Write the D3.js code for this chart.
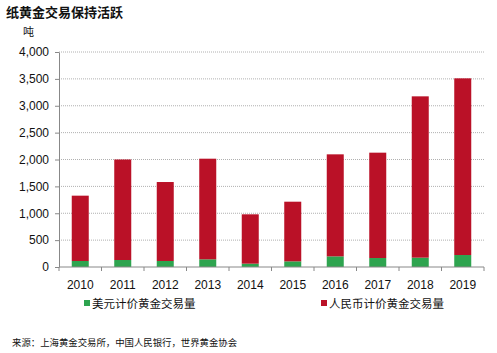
<!DOCTYPE html>
<html>
<head>
<meta charset="utf-8">
<script src="https://cdn.jsdelivr.net/npm/d3@7"></script>
<style>
  body { margin: 0; background: #fff; }
  svg { font-family: "Liberation Sans", Arial, "Noto Sans CJK SC", sans-serif; }
  .cjk { font-family: "Noto Sans CJK SC", sans-serif; }
</style>
</head>
<body>
<svg id="chart" width="497" height="353"></svg>
<script>
// data (tonnes)
const years = ["2010", "2011", "2012", "2013", "2014", "2015", "2016", "2017", "2018", "2019"];
const usdVolume = [112, 130, 112, 143, 62, 105, 198, 167, 174, 223];
const cnyVolume = [1215, 1870, 1469, 1872, 918, 1110, 1898, 1960, 3001, 3287];
const yTicks = [0, 500, 1000, 1500, 2000, 2500, 3000, 3500, 4000];
const seriesNames = ["美元计价黄金交易量", "人民币计价黄金交易量"];
const colors = ["#2ea44f", "#ba1127"];

const svg = d3.select("#chart");
const margin = { top: 52, right: 13, bottom: 86, left: 59 };
const width = 497 - margin.left - margin.right;
const height = 353 - margin.top - margin.bottom;

const g = svg.append("g").attr("transform", `translate(${margin.left},${margin.top})`);

const x = d3.scaleBand().domain(years).range([0, width]).padding(0);
const y = d3.scaleLinear().domain([0, 4000]).range([height, 0]);

// grid lines
g.selectAll(".grid")
  .data(yTicks.filter(d => d > 0))
  .enter().append("line")
  .attr("x1", 0).attr("x2", width)
  .attr("y1", d => y(d)).attr("y2", d => y(d))
  .attr("stroke", "#b0b0b0")
  .attr("stroke-dasharray", "1,1");

// stacked bars
const rows = years.map((yr, i) => ({ year: yr, usd: usdVolume[i], cny: cnyVolume[i] }));
const stack = d3.stack().keys(["usd", "cny"])(rows);
const barW = x.bandwidth() * 0.4;

g.selectAll(".layer")
  .data(stack)
  .enter().append("g")
  .attr("fill", (d, i) => colors[i])
  .selectAll("rect")
  .data(d => d)
  .enter().append("rect")
  .attr("x", d => x(d.data.year) + (x.bandwidth() - barW) / 2)
  .attr("y", d => y(d[1]))
  .attr("width", barW)
  .attr("height", d => y(d[0]) - y(d[1]));

// y axis
const yAxis = g.append("g")
  .call(d3.axisLeft(y).tickValues(yTicks).tickFormat(d3.format(",")).tickSize(4).tickSizeOuter(0));
yAxis.select(".domain").attr("stroke", "#888");
yAxis.selectAll(".tick line").attr("stroke", "#888");
yAxis.selectAll("text").attr("font-size", 12).attr("fill", "#111").attr("x", -10);

// x axis: ticks between categories
const xAxis = g.append("g").attr("transform", `translate(0,${height})`);
xAxis.append("line").attr("x1", 0).attr("x2", width).attr("stroke", "#888");
xAxis.selectAll(".sep")
  .data(years.concat(["end"]))
  .enter().append("line")
  .attr("x1", (d, i) => i < years.length ? x(d) : width)
  .attr("x2", (d, i) => i < years.length ? x(d) : width)
  .attr("y1", 0).attr("y2", 4)
  .attr("stroke", "#888");
xAxis.selectAll(".lbl")
  .data(years)
  .enter().append("text")
  .attr("x", d => x(d) + x.bandwidth() / 2)
  .attr("y", 22)
  .attr("text-anchor", "middle")
  .attr("font-size", 12)
  .attr("fill", "#111")
  .text(d => d);

// title and unit
svg.append("text").attr("class", "cjk")
  .attr("x", 6).attr("y", 17)
  .attr("font-size", 13).attr("font-weight", "bold").attr("fill", "#111")
  .text("纸黄金交易保持活跃");
svg.append("text").attr("class", "cjk")
  .attr("x", 23).attr("y", 36)
  .attr("font-size", 11).attr("fill", "#111")
  .text("吨");

// legend
const legendX = [84, 321];
seriesNames.forEach((name, i) => {
  svg.append("rect")
    .attr("x", legendX[i]).attr("y", 300)
    .attr("width", 6).attr("height", 6)
    .attr("fill", colors[i]);
  svg.append("text").attr("class", "cjk")
    .attr("x", legendX[i] + 8).attr("y", 308)
    .attr("font-size", 11.5).attr("fill", "#111")
    .text(name);
});

// source
svg.append("text").attr("class", "cjk")
  .attr("x", 12).attr("y", 346)
  .attr("font-size", 9.4).attr("fill", "#111")
  .text("来源：上海黄金交易所，中国人民银行，世界黄金协会");
</script>
</body>
</html>
